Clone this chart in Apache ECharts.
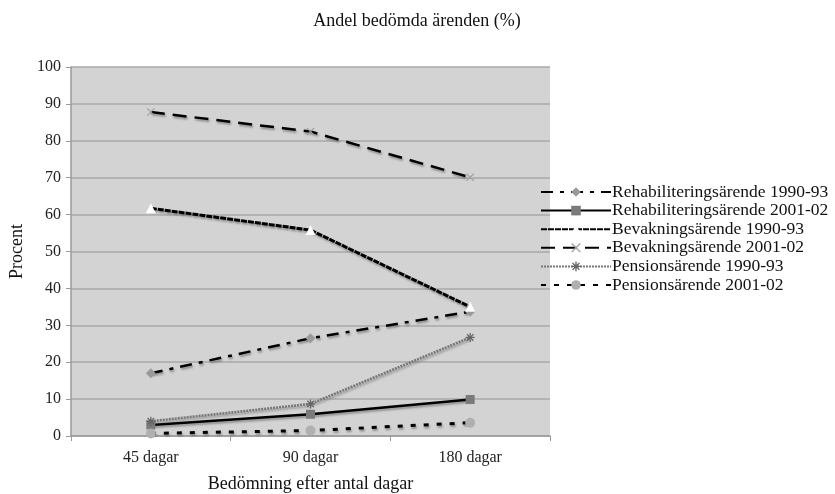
<!DOCTYPE html>
<html>
<head>
<meta charset="utf-8">
<script src="https://cdn.jsdelivr.net/npm/echarts@6/dist/echarts.min.js"></script>
<style>html,body{margin:0;padding:0;background:#fff}#c{width:835px;height:494px}</style>
</head>
<body>
<div id="c"></div>
<script>
var categories = ['45 dagar', '90 dagar', '180 dagar'];
var seriesNames = ['Rehabiliteringsärende 1990-93','Rehabiliteringsärende 2001-02','Bevakningsärende 1990-93','Bevakningsärende 2001-02','Pensionsärende 1990-93','Pensionsärende 2001-02'];
var rehab9093 = [17, 26.5, 33.7];
var rehab0102 = [3, 5.9, 9.9];
var bevak9093 = [61.7, 55.8, 35];
var bevak0102 = [87.8, 82.5, 70.1];
var pens9093 = [4, 8.7, 26.7];
var pens0102 = [0.7, 1.5, 3.6];
var yTicks = {min: 0, max: 100, interval: 10};

var font = '"Liberation Serif", "DejaVu Serif", serif';
var xPath = 'path://M0,1L1,0L5,4L9,0L10,1L6,5L10,9L9,10L5,6L1,10L0,9L4,5Z';
var starPath = 'path://M4.3,0H5.7V3.3L8.1,0.9L9.1,1.9L6.7,4.3H10V5.7H6.7L9.1,8.1L8.1,9.1L5.7,6.7V10H4.3V6.7L1.9,9.1L0.9,8.1L3.3,5.7H0V4.3H3.3L0.9,1.9L1.9,0.9L4.3,3.3Z';
var shadow = {shadowColor: 'rgba(90,90,90,0.55)', shadowBlur: 2, shadowOffsetX: 1, shadowOffsetY: 2};

function mk(name, data, line, sym, symSize, symColor) {
  return {
    name: name, type: 'line', data: data,
    symbol: sym, symbolSize: symSize,
    lineStyle: Object.assign({color: line.color || '#000', width: line.width || 2.5, type: line.type || 'solid'}, shadow),
    itemStyle: {color: symColor, borderColor: symColor, borderWidth: 0},
    emphasis: {disabled: true},
    animation: false, z: 3
  };
}

var series = [
  mk(seriesNames[0], rehab9093, {type: [12, 7, 4, 7]}, 'diamond', 10, '#9a9a9a'),
  mk(seriesNames[1], rehab0102, {}, 'rect', 9, '#7a7a7a'),
  mk(seriesNames[2], bevak9093, {type: [6, 1], width: 3}, 'triangle', 10, '#ffffff'),
  mk(seriesNames[3], bevak0102, {type: [14, 8]}, xPath, 8, '#a0a0a0'),
  mk(seriesNames[4], pens9093, {type: [2, 1], color: '#777', width: 2.5}, starPath, 9, '#666'),
  mk(seriesNames[5], pens0102, {type: [5, 8], width: 3}, 'circle', 10, '#b0b0b0')
];

var chart = echarts.init(document.getElementById('c'), null, {renderer: 'canvas'});
chart.setOption({
  backgroundColor: '#fff',
  animation: false,
  textStyle: {fontFamily: font},
  title: {
    text: 'Andel bedömda ärenden (%)', left: 412, top: 7, textAlign: 'center',
    textStyle: {fontFamily: font, fontSize: 18, fontWeight: 'normal', color: '#111'}
  },
  legend: {
    orient: 'vertical', left: 535, top: 178, itemGap: 0.6, itemWidth: 70, itemHeight: 12,
    data: seriesNames,
    textStyle: {fontFamily: font, fontSize: 17.5, lineHeight: 18, color: '#111', padding: [0, 0, 0, -4]}
  },
  grid: {left: 71, right: 285, top: 67, bottom: 58, show: true, backgroundColor: '#d3d3d3', borderWidth: 0, outerBoundsMode: 'none', containLabel: false},
  xAxis: {
    type: 'category', data: categories, boundaryGap: true,
    name: 'Bedömning efter antal dagar', nameLocation: 'middle', nameGap: 39,
    nameTextStyle: {fontFamily: font, fontSize: 18, color: '#111'},
    axisLine: {lineStyle: {color: '#9a9a9a', width: 1.5}},
    axisTick: {show: true, length: 5, lineStyle: {color: '#9a9a9a'}},
    axisLabel: {fontFamily: font, fontSize: 16, color: '#222', margin: 14}
  },
  yAxis: {
    type: 'value', min: yTicks.min, max: yTicks.max, interval: yTicks.interval,
    name: 'Procent', nameLocation: 'middle', nameGap: 44,
    nameTextStyle: {fontFamily: font, fontSize: 18, color: '#111'},
    axisLine: {show: true, lineStyle: {color: '#9a9a9a', width: 1.5}},
    axisTick: {show: true, length: 5, lineStyle: {color: '#9a9a9a'}},
    axisLabel: {fontFamily: font, fontSize: 16, color: '#222', margin: 10},
    splitLine: {lineStyle: {color: '#a9a9a9', width: 1.5}}
  },
  series: series
});
</script>
</body>
</html>
